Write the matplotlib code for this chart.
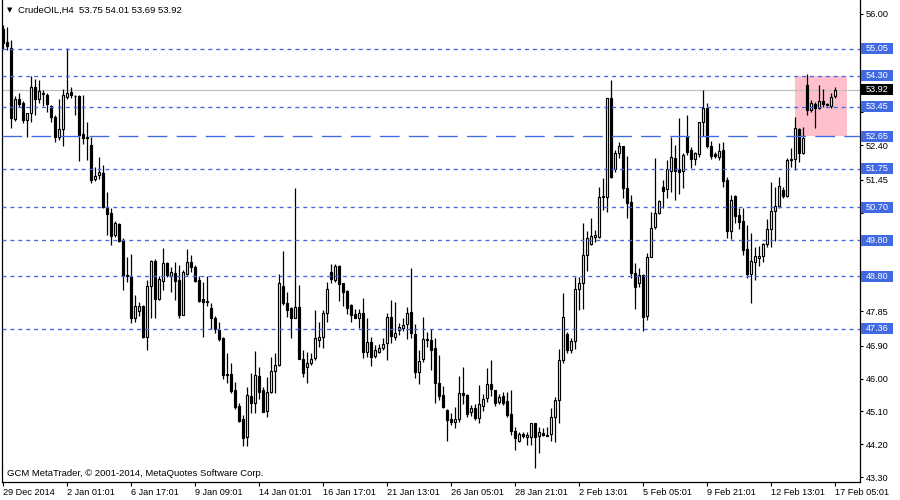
import numpy as np
import matplotlib.pyplot as plt
from matplotlib.patches import Rectangle
from matplotlib.transforms import blended_transform_factory

plt.rcParams['font.family'] = ['Liberation Sans', 'DejaVu Sans']

# CrudeOIL H4 candles (oldest first)
opens = [55.60, 55.23, 55.07, 53.12, 53.67, 53.56, 53.09, 53.28, 54.00, 53.67,
         53.83, 53.78, 53.48, 53.17, 52.63, 52.85, 53.72, 53.86, 53.76, 53.75,
         52.71, 52.63, 52.41, 51.47, 51.58, 51.64, 50.68, 50.54, 49.94, 50.24,
         49.80, 48.84, 48.81, 47.66, 47.85, 47.99, 47.14, 48.54, 49.22, 48.18,
         48.68, 49.17, 48.81, 48.90, 48.70, 47.74, 48.87, 49.20, 49.06, 48.70,
         48.18, 48.13, 47.93, 47.66, 47.33, 47.11, 46.12, 46.12, 45.69, 45.25,
         44.89, 44.40, 45.52, 45.33, 46.07, 45.69, 45.11, 45.63, 46.21, 46.37,
         48.54, 48.07, 47.93, 47.66, 47.96, 46.54, 46.32, 46.43, 46.57, 47.06,
         47.14, 47.80, 48.92, 48.70, 49.09, 48.62, 48.40, 48.02, 47.77, 47.66,
         47.80, 46.73, 47.00, 46.62, 46.73, 46.84, 46.98, 47.69, 47.14, 47.33,
         47.39, 47.50, 47.83, 47.22, 46.18, 46.54, 47.06, 47.06, 46.84, 45.88,
         45.55, 45.14, 44.89, 44.81, 44.89, 45.60, 45.55, 45.08, 45.19, 44.92,
         45.25, 45.47, 45.85, 45.69, 45.36, 45.52, 45.38, 45.03, 44.56, 44.29,
         44.48, 44.40, 44.40, 44.78, 44.42, 44.50, 44.45, 44.48, 44.95, 45.41,
         46.51, 47.22, 46.78, 47.03, 48.46, 48.62, 49.39, 49.69, 49.88, 49.88,
         50.98, 50.98, 53.70, 51.75, 52.19, 52.38, 51.23, 50.84, 48.90, 48.62,
         48.84, 47.72, 49.33, 50.16, 50.54, 51.25, 51.20, 51.70, 52.05, 51.75,
         51.70, 52.63, 52.27, 52.02, 52.16, 53.04, 53.42, 52.38, 52.16, 52.08,
         52.27, 51.45, 50.05, 51.01, 50.49, 50.32, 49.55, 48.87, 49.20, 49.30,
         49.36, 49.69, 50.10, 50.60, 50.73, 51.17, 51.01, 51.99, 52.02, 52.85,
         52.19, 54.05, 53.37, 53.53, 53.42, 53.62, 53.52, 53.48, 53.75]
highs = [55.70, 55.64, 55.29, 53.75, 53.83, 53.60, 53.28, 54.30, 54.22, 54.19,
         53.92, 53.83, 53.50, 53.23, 53.67, 53.94, 55.07, 54.00, 53.77, 53.78,
         53.78, 53.04, 52.63, 51.80, 52.08, 51.86, 51.12, 50.68, 50.32, 50.27,
         49.86, 49.33, 49.42, 48.29, 48.10, 48.02, 48.70, 49.25, 49.28, 48.81,
         49.58, 49.20, 49.06, 49.20, 49.11, 48.98, 49.55, 49.39, 49.11, 48.81,
         48.65, 48.81, 48.07, 47.72, 47.55, 47.14, 46.70, 46.43, 45.91, 45.33,
         45.00, 45.77, 46.15, 46.76, 46.32, 45.77, 46.04, 46.59, 46.70, 48.87,
         49.50, 48.37, 47.96, 51.23, 48.57, 46.78, 46.73, 46.70, 47.88, 47.55,
         47.88, 48.65, 49.14, 49.14, 49.11, 48.62, 48.43, 48.04, 47.91, 47.91,
         48.21, 47.66, 47.14, 46.92, 46.95, 47.11, 47.80, 48.15, 48.10, 47.52,
         47.66, 47.96, 49.03, 47.50, 46.78, 47.69, 47.28, 47.36, 47.11, 46.65,
         45.80, 45.16, 45.05, 45.22, 46.07, 46.32, 45.58, 45.27, 45.30, 45.82,
         45.58, 46.29, 46.51, 45.69, 45.58, 45.63, 45.63, 45.69, 44.67, 44.53,
         44.53, 44.53, 44.78, 44.78, 44.67, 44.64, 44.67, 45.19, 45.49, 46.81,
         48.35, 47.28, 47.11, 48.79, 48.79, 50.27, 50.05, 50.40, 50.07, 51.25,
         51.50, 53.70, 54.19, 52.27, 52.49, 52.38, 52.10, 51.03, 49.17, 49.03,
         48.87, 49.44, 50.57, 52.05, 50.90, 51.45, 52.00, 52.63, 52.41, 53.15,
         52.19, 53.23, 52.35, 52.22, 53.04, 53.92, 53.56, 52.52, 52.22, 52.46,
         52.49, 51.53, 51.03, 51.03, 50.68, 50.68, 50.21, 49.99, 49.61, 49.64,
         49.72, 50.38, 51.39, 51.25, 51.53, 51.25, 52.05, 52.32, 53.17, 52.87,
         52.90, 54.35, 53.64, 53.59, 54.05, 53.94, 53.55, 53.83, 54.01]
lows = [55.05, 55.01, 52.87, 53.06, 53.45, 53.00, 52.63, 53.04, 53.23, 53.56,
        53.48, 53.31, 53.04, 52.49, 52.54, 52.38, 53.67, 53.70, 53.23, 51.97,
        52.43, 52.00, 51.36, 51.42, 51.47, 50.68, 49.94, 49.66, 49.88, 49.75,
        48.43, 48.65, 47.52, 47.55, 47.72, 47.11, 46.78, 47.66, 47.66, 48.15,
        48.43, 48.79, 48.37, 48.15, 47.66, 47.74, 48.84, 48.92, 48.65, 48.10,
        47.14, 47.99, 47.36, 47.25, 47.03, 46.00, 45.88, 45.60, 45.16, 44.81,
        44.15, 44.15, 45.05, 45.05, 45.44, 45.08, 44.95, 45.60, 45.60, 46.34,
        48.02, 47.69, 47.11, 47.66, 46.54, 46.04, 45.88, 46.37, 46.51, 46.87,
        46.84, 47.55, 48.62, 48.65, 48.13, 47.99, 47.77, 47.55, 47.66, 47.39,
        46.56, 46.59, 46.34, 46.56, 46.70, 46.78, 46.51, 46.98, 47.06, 47.19,
        47.30, 47.08, 47.11, 46.02, 45.85, 46.45, 46.87, 46.23, 45.33, 45.41,
        45.19, 44.29, 44.73, 44.64, 44.81, 45.30, 44.95, 44.97, 44.86, 44.78,
        45.11, 45.36, 45.52, 45.25, 45.30, 45.27, 44.95, 44.45, 44.04, 44.26,
        44.37, 44.18, 44.18, 43.55, 43.95, 44.42, 44.42, 44.29, 44.26, 44.78,
        46.43, 46.70, 46.70, 46.81, 47.88, 47.91, 48.95, 49.66, 49.75, 49.86,
        50.62, 50.57, 51.50, 51.67, 52.05, 50.95, 50.40, 48.76, 47.91, 48.51,
        47.30, 47.61, 49.33, 50.10, 50.51, 50.68, 50.95, 51.12, 50.90, 51.06,
        51.23, 52.13, 51.78, 51.86, 52.08, 52.65, 52.32, 52.02, 52.05, 52.00,
        51.25, 49.86, 49.83, 50.27, 50.10, 49.39, 48.76, 48.07, 48.70, 49.09,
        49.20, 49.61, 49.61, 49.77, 50.68, 50.95, 50.98, 51.80, 51.72, 51.94,
        52.16, 53.23, 53.31, 52.87, 53.39, 53.45, 53.47, 53.42, 53.69]
closes = [55.20, 55.12, 53.15, 53.67, 53.53, 53.09, 53.28, 54.00, 53.67, 53.89,
          53.80, 53.53, 53.17, 52.63, 52.85, 53.78, 53.83, 53.78, 53.74, 52.68,
          52.60, 52.61, 51.45, 51.56, 51.67, 50.70, 50.51, 49.91, 50.27, 49.77,
          48.81, 48.81, 47.66, 47.99, 47.99, 47.14, 48.54, 49.22, 48.18, 48.73,
          49.17, 48.84, 48.92, 48.68, 47.74, 48.92, 49.20, 49.06, 48.68, 48.13,
          48.10, 48.10, 47.66, 47.36, 47.08, 46.10, 46.10, 45.66, 45.22, 44.84,
          44.37, 45.55, 45.33, 46.10, 45.63, 45.08, 45.63, 46.21, 46.37, 48.62,
          48.07, 47.88, 47.66, 47.96, 46.54, 46.15, 46.43, 46.54, 47.11, 47.14,
          47.80, 48.46, 48.73, 49.09, 48.59, 48.37, 47.93, 47.74, 47.66, 47.80,
          46.73, 47.00, 46.59, 46.78, 46.84, 46.95, 47.69, 47.17, 47.25, 47.41,
          47.47, 47.80, 47.25, 46.18, 46.48, 47.08, 47.08, 46.78, 45.88, 45.52,
          45.22, 44.86, 44.81, 44.89, 45.60, 45.55, 45.03, 45.19, 44.92, 45.30,
          45.44, 45.85, 45.71, 45.33, 45.49, 45.33, 45.00, 44.56, 44.37, 44.48,
          44.42, 44.45, 44.78, 44.40, 44.53, 44.45, 44.42, 44.95, 45.41, 46.51,
          47.69, 46.78, 47.03, 48.46, 48.62, 49.39, 49.86, 49.91, 49.94, 50.98,
          50.99, 53.70, 51.53, 52.19, 52.38, 51.23, 50.82, 48.90, 48.51, 48.84,
          47.69, 49.33, 50.13, 50.54, 50.87, 51.14, 51.75, 52.08, 51.70, 51.67,
          52.13, 52.22, 52.02, 52.19, 53.04, 53.42, 52.38, 52.10, 52.10, 52.24,
          51.42, 50.05, 50.90, 50.46, 50.29, 49.53, 48.87, 49.22, 49.36, 49.36,
          49.69, 50.10, 50.60, 50.73, 51.28, 51.01, 52.00, 52.02, 52.87, 52.19,
          52.60, 53.37, 53.56, 53.42, 53.62, 53.53, 53.50, 53.72, 53.92]

date_bars = [0, 16, 32, 48, 64, 80, 96, 112, 128, 144, 160, 176, 192, 208]
date_labels = ["29 Dec 2014", "2 Jan 01:01", "6 Jan 17:01", "9 Jan 09:01",
               "14 Jan 01:01", "16 Jan 17:01", "21 Jan 13:01", "26 Jan 05:01",
               "28 Jan 21:01", "2 Feb 13:01", "5 Feb 05:01", "9 Feb 21:01",
               "12 Feb 13:01", "17 Feb 05:01"]
price_ticks = [56.00, 55.10, 54.20, 53.30, 52.40, 51.45, 50.55, 49.65,
               48.75, 47.85, 46.90, 46.00, 45.10, 44.20, 43.30]

levels = [55.05, 54.30, 53.45, 51.75, 50.70, 49.80, 48.80, 47.36]
key_level = 52.65
last_price = 53.92
zone_bars = [197.9, 210.9]
zone_prices = [52.65, 54.30]

blue = '#4169e1'

fig = plt.figure(figsize=(9, 5), dpi=100)
ax = fig.add_axes([2 / 900, 18 / 500, 858 / 900, 482 / 500])

o = np.array(opens)
h = np.array(highs)
l = np.array(lows)
c = np.array(closes)
x = np.arange(len(o))
up = c >= o
bottom = np.minimum(o, c)
height = np.maximum(np.abs(c - o), 0.015)

# pink zone
ax.add_patch(Rectangle((zone_bars[0], zone_prices[0]), zone_bars[1] - zone_bars[0],
                       zone_prices[1] - zone_prices[0], facecolor='#ffc0cb',
                       edgecolor='none', zorder=1))

# candles
ax.vlines(x, l, h, color='black', lw=0.9, zorder=3)
ax.bar(x[up], height[up], bottom=bottom[up], width=0.5, facecolor='white',
       edgecolor='black', lw=0.85, zorder=4)
ax.bar(x[~up], height[~up], bottom=bottom[~up], width=0.5, facecolor='black',
       edgecolor='black', lw=0.85, zorder=4)

# horizontal levels
ax.axhline(last_price, color='#c0c0c0', lw=0.9, zorder=2)
for lv in levels:
    ax.axhline(lv, color=blue, lw=0.95, dashes=(3, 3), zorder=5)
ax.axhline(key_level, color=blue, lw=0.95, dashes=(15, 7), zorder=5)

ax.set_xlim(-0.325, 214.175)
ax.set_ylim(43.163, 56.383)

# grid labels hidden behind the level boxes in the reference are left blank
shown = []
for p in price_ticks:
    near = any(abs(p - lv) < 0.2 for lv in levels + [key_level, last_price])
    shown.append('' if near else '%.2f' % p)

ax.yaxis.tick_right()
ax.set_yticks(price_ticks)
ax.set_yticklabels(shown)
ax.tick_params(axis='y', length=2.5, width=0.8, pad=1.5, labelsize=6.6, colors='black')
ax.set_xticks(date_bars)
ax.set_xticklabels(date_labels, ha='left')
ax.tick_params(axis='x', length=3, width=0.8, pad=1.5, labelsize=6.6)
for s in ax.spines.values():
    s.set_linewidth(0.9)
ax.spines['top'].set_visible(False)

# price label boxes on the right
tr = blended_transform_factory(ax.transAxes, ax.transData)
bw = 32 / 858
bh = 11 / 36.46
for lv in levels + [key_level]:
    ax.add_patch(Rectangle((1.0015, lv - bh / 2), bw, bh, transform=tr,
                           facecolor=blue, edgecolor='none', clip_on=False, zorder=6))
    ax.text(1.0015 + bw / 2, lv, '%.2f' % lv, transform=tr, color='white',
            fontsize=6.6, ha='center', va='center', zorder=7)
ax.add_patch(Rectangle((1.0015, last_price - bh / 2), bw, bh, transform=tr,
                       facecolor='black', edgecolor='none', clip_on=False, zorder=6))
ax.text(1.0015 + bw / 2, last_price, '%.2f' % last_price, transform=tr, color='white',
        fontsize=6.6, ha='center', va='center', zorder=7)

# title and footer
fig.text(7 / 900, 1 - 10 / 500, '\u25bc', fontsize=5, va='center', ha='left',
         family='DejaVu Sans')
fig.text(18 / 900, 1 - 10 / 500, 'CrudeOIL,H4  53.75 54.01 53.69 53.92',
         fontsize=6.8, va='center', ha='left')
fig.text(7 / 900, 1 - 474 / 500, 'GCM MetaTrader, \u00a9 2001-2014, MetaQuotes Software Corp.',
         fontsize=6.8, va='center', ha='left')

fig.savefig('out.png', dpi=100)
